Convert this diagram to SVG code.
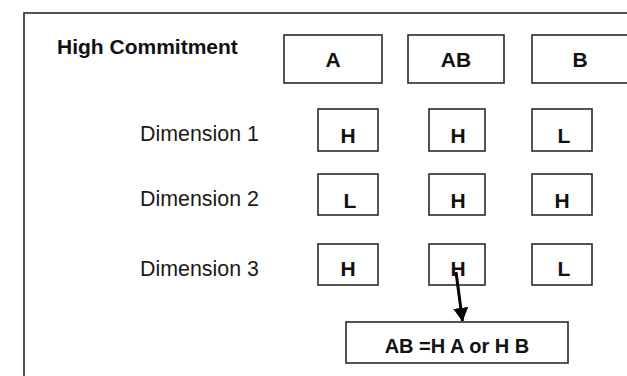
<svg xmlns="http://www.w3.org/2000/svg" width="627" height="376" viewBox="0 0 627 376">
  <style>
    .frame { fill: none; stroke: #2a2a2a; stroke-width: 1.6; }
    .box { fill: #ffffff; stroke: #2a2a2a; stroke-width: 1.6; }
    .lbl { font-family: "Liberation Sans", Arial, sans-serif; font-weight: bold; font-size: 21px; fill: #111; text-anchor: middle; }
    .res { font-size: 20px; }
    .title { font-family: "Liberation Sans", Arial, sans-serif; font-weight: bold; font-size: 21px; fill: #111; }
    .dim { font-family: "Liberation Sans", Arial, sans-serif; font-size: 21.4px; fill: #1a1a1a; }
    .conn { stroke: #000; stroke-width: 3; fill: none; }
  </style>
  <defs>
    <marker id="arrow" markerWidth="5" markerHeight="5" refX="4.4" refY="2.5" orient="auto" markerUnits="strokeWidth">
      <path d="M0,0 L4.6,2.5 L0,5 Z" fill="#000"/>
    </marker>
  </defs>
  <rect width="627" height="376" fill="#ffffff"/>
  <rect class="frame" x="24" y="13" width="640" height="400"/>

  <g id="title"><text class="title" x="57" y="54">High Commitment</text></g>

  <g id="hdr-A"><rect class="box" x="284" y="35" width="98" height="48"/><text class="lbl" x="333" y="67">A</text></g>
  <g id="hdr-AB"><rect class="box" x="408" y="35" width="96" height="48"/><text class="lbl" x="456" y="67">AB</text></g>
  <g id="hdr-B"><rect class="box" x="532" y="35" width="97" height="48"/><text class="lbl" x="580" y="67">B</text></g>

  <g id="dim1"><text class="dim" x="140" y="141">Dimension 1</text></g>
  <g id="dim2"><text class="dim" x="140" y="206">Dimension 2</text></g>
  <g id="dim3"><text class="dim" x="140" y="276">Dimension 3</text></g>

  <g id="d1-A"><rect class="box" x="318" y="109" width="60" height="42"/><text class="lbl" x="348" y="143">H</text></g>
  <g id="d1-AB"><rect class="box" x="429" y="109" width="56" height="42"/><text class="lbl" x="458" y="143">H</text></g>
  <g id="d1-B"><rect class="box" x="532" y="109" width="60" height="42"/><text class="lbl" x="564" y="143">L</text></g>

  <g id="d2-A"><rect class="box" x="318" y="174" width="60" height="41"/><text class="lbl" x="350" y="208">L</text></g>
  <g id="d2-AB"><rect class="box" x="429" y="174" width="56" height="41"/><text class="lbl" x="458" y="208">H</text></g>
  <g id="d2-B"><rect class="box" x="532" y="174" width="60" height="41"/><text class="lbl" x="562" y="208">H</text></g>

  <g id="d3-A"><rect class="box" x="318" y="244" width="60" height="41"/><text class="lbl" x="348" y="276">H</text></g>
  <g id="d3-AB"><rect class="box" x="429" y="244" width="56" height="41"/><text class="lbl" x="458" y="276">H</text></g>
  <g id="d3-B"><rect class="box" x="532" y="244" width="60" height="41"/><text class="lbl" x="564" y="276">L</text></g>

  <g id="result"><rect class="box" x="346" y="322" width="222" height="41"/><text class="lbl res" x="457" y="353">AB =H A or H B</text></g>

  <g id="connectors">
    <line class="conn" x1="456" y1="272" x2="462.5" y2="321" marker-end="url(#arrow)"/>
  </g>
</svg>
